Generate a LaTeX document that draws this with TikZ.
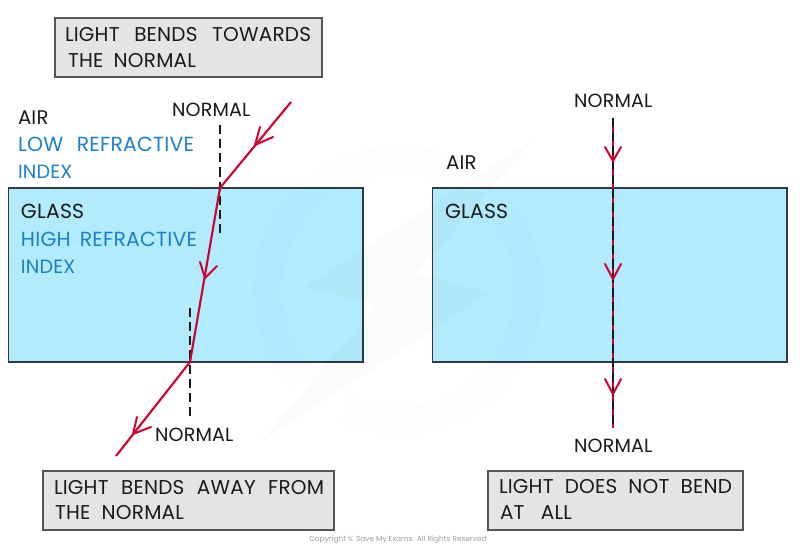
\documentclass[tikz,border=0pt]{standalone}
\usepackage{fontspec}
\setmainfont{Poppins}[LetterSpace=1]
\definecolor{glassfill}{HTML}{B2EBFD}
\definecolor{glassedge}{HTML}{2F3A40}
\definecolor{boxfill}{HTML}{E4E4E4}
\definecolor{boxedge}{HTML}{555555}
\definecolor{ray}{HTML}{D0022F}
\definecolor{bluetext}{HTML}{1B80CC}
\definecolor{inktext}{HTML}{1A1A1A}
\definecolor{wm}{HTML}{2AA7D8}
\newcommand{\fitline}[2]{\makebox[\dimexpr #1pt*3/4\relax][s]{#2}}
\tikzset{
  x=0.75pt,y=-0.75pt,
  glassbox/.style={draw=glassedge,fill=glassfill,line width=0.85pt},
  notebox/.style={draw=boxedge,fill=boxfill,line width=0.85pt},
  fs/.style={font=\fontsize{#1}{16}\selectfont},
  lbl/.style={anchor=base west,inner sep=0pt,outer sep=0pt,text=inktext,fs=15},
  bluelbl/.style={lbl,text=bluetext,fs=15.3},
  lightray/.style={draw=ray,line width=1.6pt},
  barb/.style={draw=ray,line width=1.5pt,line cap=round,line join=round},
  normalline/.style={draw=inktext,line width=1.5pt,dash pattern=on 6.9pt off 3.7pt},
  wmring/.style={fill=wm,fill opacity=0.014,draw=none},
  wmbolt/.style={fill=black,fill opacity=0.016,draw=none}
}
\begin{document}
\begin{tikzpicture}
\useasboundingbox (0,0) rectangle (800,555);
% glass blocks
\draw[glassbox] (8.5,188) rectangle (363,362);
\draw[glassbox] (432.5,188) rectangle (787,362);
% faint watermark
\fill[wmring] plot[domain=60:222,samples=50] ({398+145*cos(\x)},{290-145*sin(\x)}) -- plot[domain=222:60,samples=50] ({398+116*cos(\x)},{290-116*sin(\x)}) -- cycle;
\fill[wmring] plot[domain=40:-115,samples=50] ({398+145*cos(\x)},{290-145*sin(\x)}) -- (290,435) -- (345,418) -- plot[domain=-118:40,samples=50] ({398+116*cos(\x)},{290-116*sin(\x)}) -- cycle;
\fill[wmbolt] (535,138) -- (305,287) -- (377,305) -- (260,442) -- (490,293) -- (417,273) -- cycle;
% note boxes
\node[notebox,minimum width=267*0.75pt,minimum height=59*0.75pt,inner sep=0pt] (topnote) at (188.5,47.5) {};
\node[notebox,minimum width=291*0.75pt,minimum height=59*0.75pt,inner sep=0pt] (leftnote) at (188.5,500.5) {};
\node[notebox,minimum width=255*0.75pt,minimum height=59*0.75pt,inner sep=0pt] (rightnote) at (615.5,500.5) {};
% left ray
\coordinate (a) at (291,102);
\coordinate (b) at (220,188);
\coordinate (c) at (190,362);
\coordinate (d) at (116,456);
\coordinate (n1a) at (220,125);
\coordinate (n1b) at (220,236);
\coordinate (n2a) at (190,308);
\coordinate (n2b) at (190,420);
\draw[normalline] (n1a) -- (n1b);
\draw[normalline] (n2a) -- (n2b);
\draw[lightray] (a) -- (b) -- (c) -- (d);
\coordinate (t1) at (255,145);
\coordinate (t2) at (205,278);
\coordinate (t3) at (133,434);
\draw[barb] (260,127) -- (t1) -- (273,137);
\draw[barb] (200,262) -- (t2) -- (217,266);
\draw[barb] (137,417) -- (t3) -- (151,427);
% right ray
\coordinate (e) at (613,118);
\coordinate (f) at (613,428);
\draw[lightray] (e) -- (f);
\draw[normalline,line width=1.3pt] (e) -- (f);
\coordinate (t4) at (613,161);
\coordinate (t5) at (613,279);
\coordinate (t6) at (613,394);
\draw[barb] (605,147) -- (t4) -- (621,147);
\draw[barb] (605,264) -- (t5) -- (621,264);
\draw[barb] (605,379) -- (t6) -- (621,379);
% texts
\node[lbl] (l1) at (65,42) {\fitline{246}{LIGHT BENDS TOWARDS}};
\node[lbl] (l2) at (68,68) {\fitline{128}{THE NORMAL}};
\node[lbl,fs=14.3] (l3) at (172,117) {NORMAL};
\node[lbl,fs=14.8] (l4) at (18,125) {AIR};
\node[bluelbl] (l5) at (18,152) {\fitline{176}{LOW REFRACTIVE}};
\node[bluelbl,fs=14.4] (l6) at (18,179) {INDEX};
\node[lbl,fs=15.3] (l7) at (21,219) {GLASS};
\node[bluelbl] (l8) at (21,247) {\fitline{176}{HIGH REFRACTIVE}};
\node[bluelbl,fs=14.4] (l9) at (21,274) {INDEX};
\node[lbl,fs=14.3] (l10) at (155,442) {NORMAL};
\node[lbl] (l11) at (54,495) {\fitline{270}{LIGHT BENDS AWAY FROM}};
\node[lbl] (l12) at (55,520) {\fitline{129}{THE NORMAL}};
\node[lbl,fs=14.3] (r1) at (574,108) {NORMAL};
\node[lbl,fs=14.8] (r2) at (446,170) {AIR};
\node[lbl,fs=15.3] (r3) at (445,219) {GLASS};
\node[lbl,fs=14.3] (r4) at (574,453) {NORMAL};
\node[lbl] (r5) at (499,494) {\fitline{233}{LIGHT DOES NOT BEND}};
\node[lbl] (r6) at (500,520) {\fitline{72}{AT ALL}};
\node[anchor=base,inner sep=0pt,text=black!40,font=\fontsize{5.5}{7}\selectfont] (copy) at (398,542) {Copyright © Save My Exams. All Rights Reserved};
\end{tikzpicture}
\end{document}
